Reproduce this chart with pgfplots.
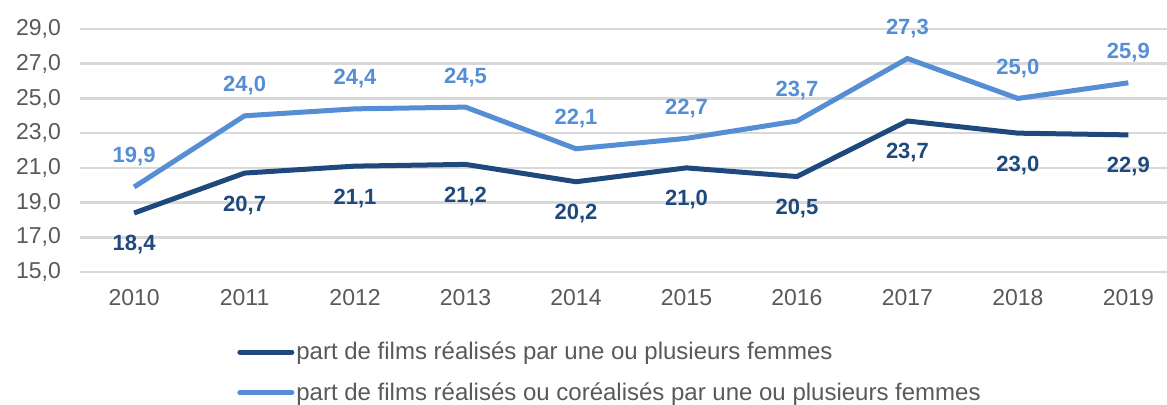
\documentclass[border=0pt]{standalone}
\usepackage{fontspec}
\setmainfont{Liberation Sans}
\usepackage{pgfplots}
\pgfplotsset{compat=1.18}
\definecolor{darkb}{HTML}{1F497D}
\definecolor{lightb}{HTML}{558ED5}
\definecolor{txt}{HTML}{595959}
\definecolor{gridc}{HTML}{D9D9D9}
\begin{document}
\begin{tikzpicture}
\begin{axis}[
  scale only axis, width=543.5pt, height=121.5pt,
  xmin=-0.49, xmax=9.35, ymin=15, ymax=29,
  axis line style={draw=none},
  major tick length=0pt,
  xtick={0,...,9},
  xticklabels={2010,2011,2012,2013,2014,2015,2016,2017,2018,2019},
  ytick={15,17,...,29},
  ymajorgrids,
  grid style={draw=gridc, line width=1.3pt},
  /pgf/number format/.cd, fixed, fixed zerofill, precision=1, use comma, assume math mode=true,
  /pgfplots/.cd,
  ticklabel style={font=\fontsize{11.5}{13}\selectfont, text=txt},
  xticklabel style={yshift=-5pt},
  yticklabel style={xshift=-6pt},
  clip=false,
  legend style={draw=none, fill=none, at={(0.1444,-0.4136)}, anchor=west,
    font=\fontsize{12}{14}\selectfont, text=txt, row sep=8pt, inner sep=0pt,
    nodes={inner sep=1pt}},
  legend cell align=left,
  legend image code/.code={\draw[#1, line width=2.5pt, line cap=round] (0pt,0pt) -- (26pt,0pt);},
  nodes near coords,
  every node near coord/.append style={font=\fontsize{11}{12}\bfseries, anchor=center},
]
\addplot[darkb, line width=2.5pt, mark=none,
  every node near coord/.append style={text=darkb, yshift=-16pt}]
  coordinates {(0,18.4) (1,20.7) (2,21.1) (3,21.2) (4,20.2) (5,21.0) (6,20.5) (7,23.7) (8,23.0) (9,22.9)};
\addlegendentry{part de films réalisés par une ou plusieurs femmes}
\addplot[lightb, line width=2.5pt, mark=none,
  every node near coord/.append style={text=lightb, yshift=15pt}]
  coordinates {(0,19.9) (1,24.0) (2,24.4) (3,24.5) (4,22.1) (5,22.7) (6,23.7) (7,27.3) (8,25.0) (9,25.9)};
\addlegendentry{part de films réalisés ou coréalisés par une ou plusieurs femmes}
\end{axis}
\pgfresetboundingbox
\path[use as bounding box] (-40pt,-66pt) rectangle (543.5pt,136pt);
\end{tikzpicture}
\end{document}
